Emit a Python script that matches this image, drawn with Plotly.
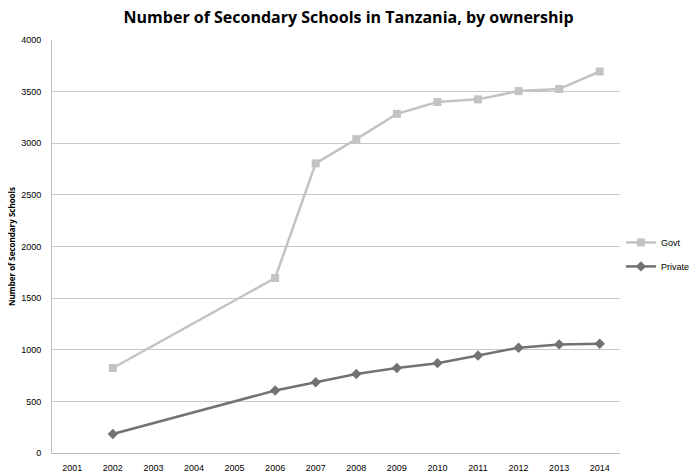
import plotly.graph_objects as go

all_years = [str(y) for y in range(2001, 2015)]
years = ["2002", "2006", "2007", "2008", "2009", "2010", "2011", "2012", "2013", "2014"]
govt = [823, 1695, 2805, 3040, 3285, 3400, 3425, 3505, 3525, 3695]
private = [184, 605, 685, 765, 823, 870, 945, 1020, 1052, 1058]

fig = go.Figure()
fig.add_trace(go.Scatter(x=years, y=govt, name="Govt", mode="lines+markers",
                         legendgroup="g",
                         line=dict(color="#c3c3c3", width=2.5),
                         marker=dict(symbol="square", size=8, color="#c3c3c3")))
fig.add_trace(go.Scatter(x=years, y=private, name="Private", mode="lines+markers",
                         legendgroup="p",
                         line=dict(color="#727272", width=2.5),
                         marker=dict(symbol="diamond", size=8, color="#727272")))

fig.update_layout(
    width=693, height=472,
    margin=dict(l=52, r=73, t=40, b=19, autoexpand=False),
    paper_bgcolor="white", plot_bgcolor="white",
    title=dict(text="<b>Number of Secondary Schools in Tanzania, by ownership</b>",
               x=0.503, xanchor="center", y=0.963, yanchor="middle",
               font=dict(family="Open Sans, sans-serif", size=16, color="black")),
    font=dict(family="Liberation Sans, Arial, sans-serif", size=9, color="black"),
    showlegend=True,
    legend=dict(xref="container", x=0.896, yref="container", y=0.461,
                xanchor="left", yanchor="middle", traceorder="grouped",
                font=dict(size=9), itemwidth=30, tracegroupgap=5,
                bgcolor="rgba(0,0,0,0)"),
    xaxis=dict(type="category", categoryorder="array", categoryarray=all_years,
               range=[-0.5, 13.5], showgrid=False, showline=True, linecolor="#bdbdbd",
               linewidth=1, ticks="", tickfont=dict(size=9), ticklabelstandoff=6,
               automargin=False),
    yaxis=dict(range=[0, 4000], dtick=500, showgrid=True, gridcolor="#c8c8c8",
               gridwidth=1, showline=True, linecolor="#bdbdbd", linewidth=1,
               zeroline=False, ticks="", tickfont=dict(size=9), ticklabelstandoff=8,
               automargin=False,
               title=dict(text="<b>Number of Secondary Schools</b>", standoff=4,
                          font=dict(family="Open Sans, sans-serif", size=8))),
)

fig.write_html("out.html")
